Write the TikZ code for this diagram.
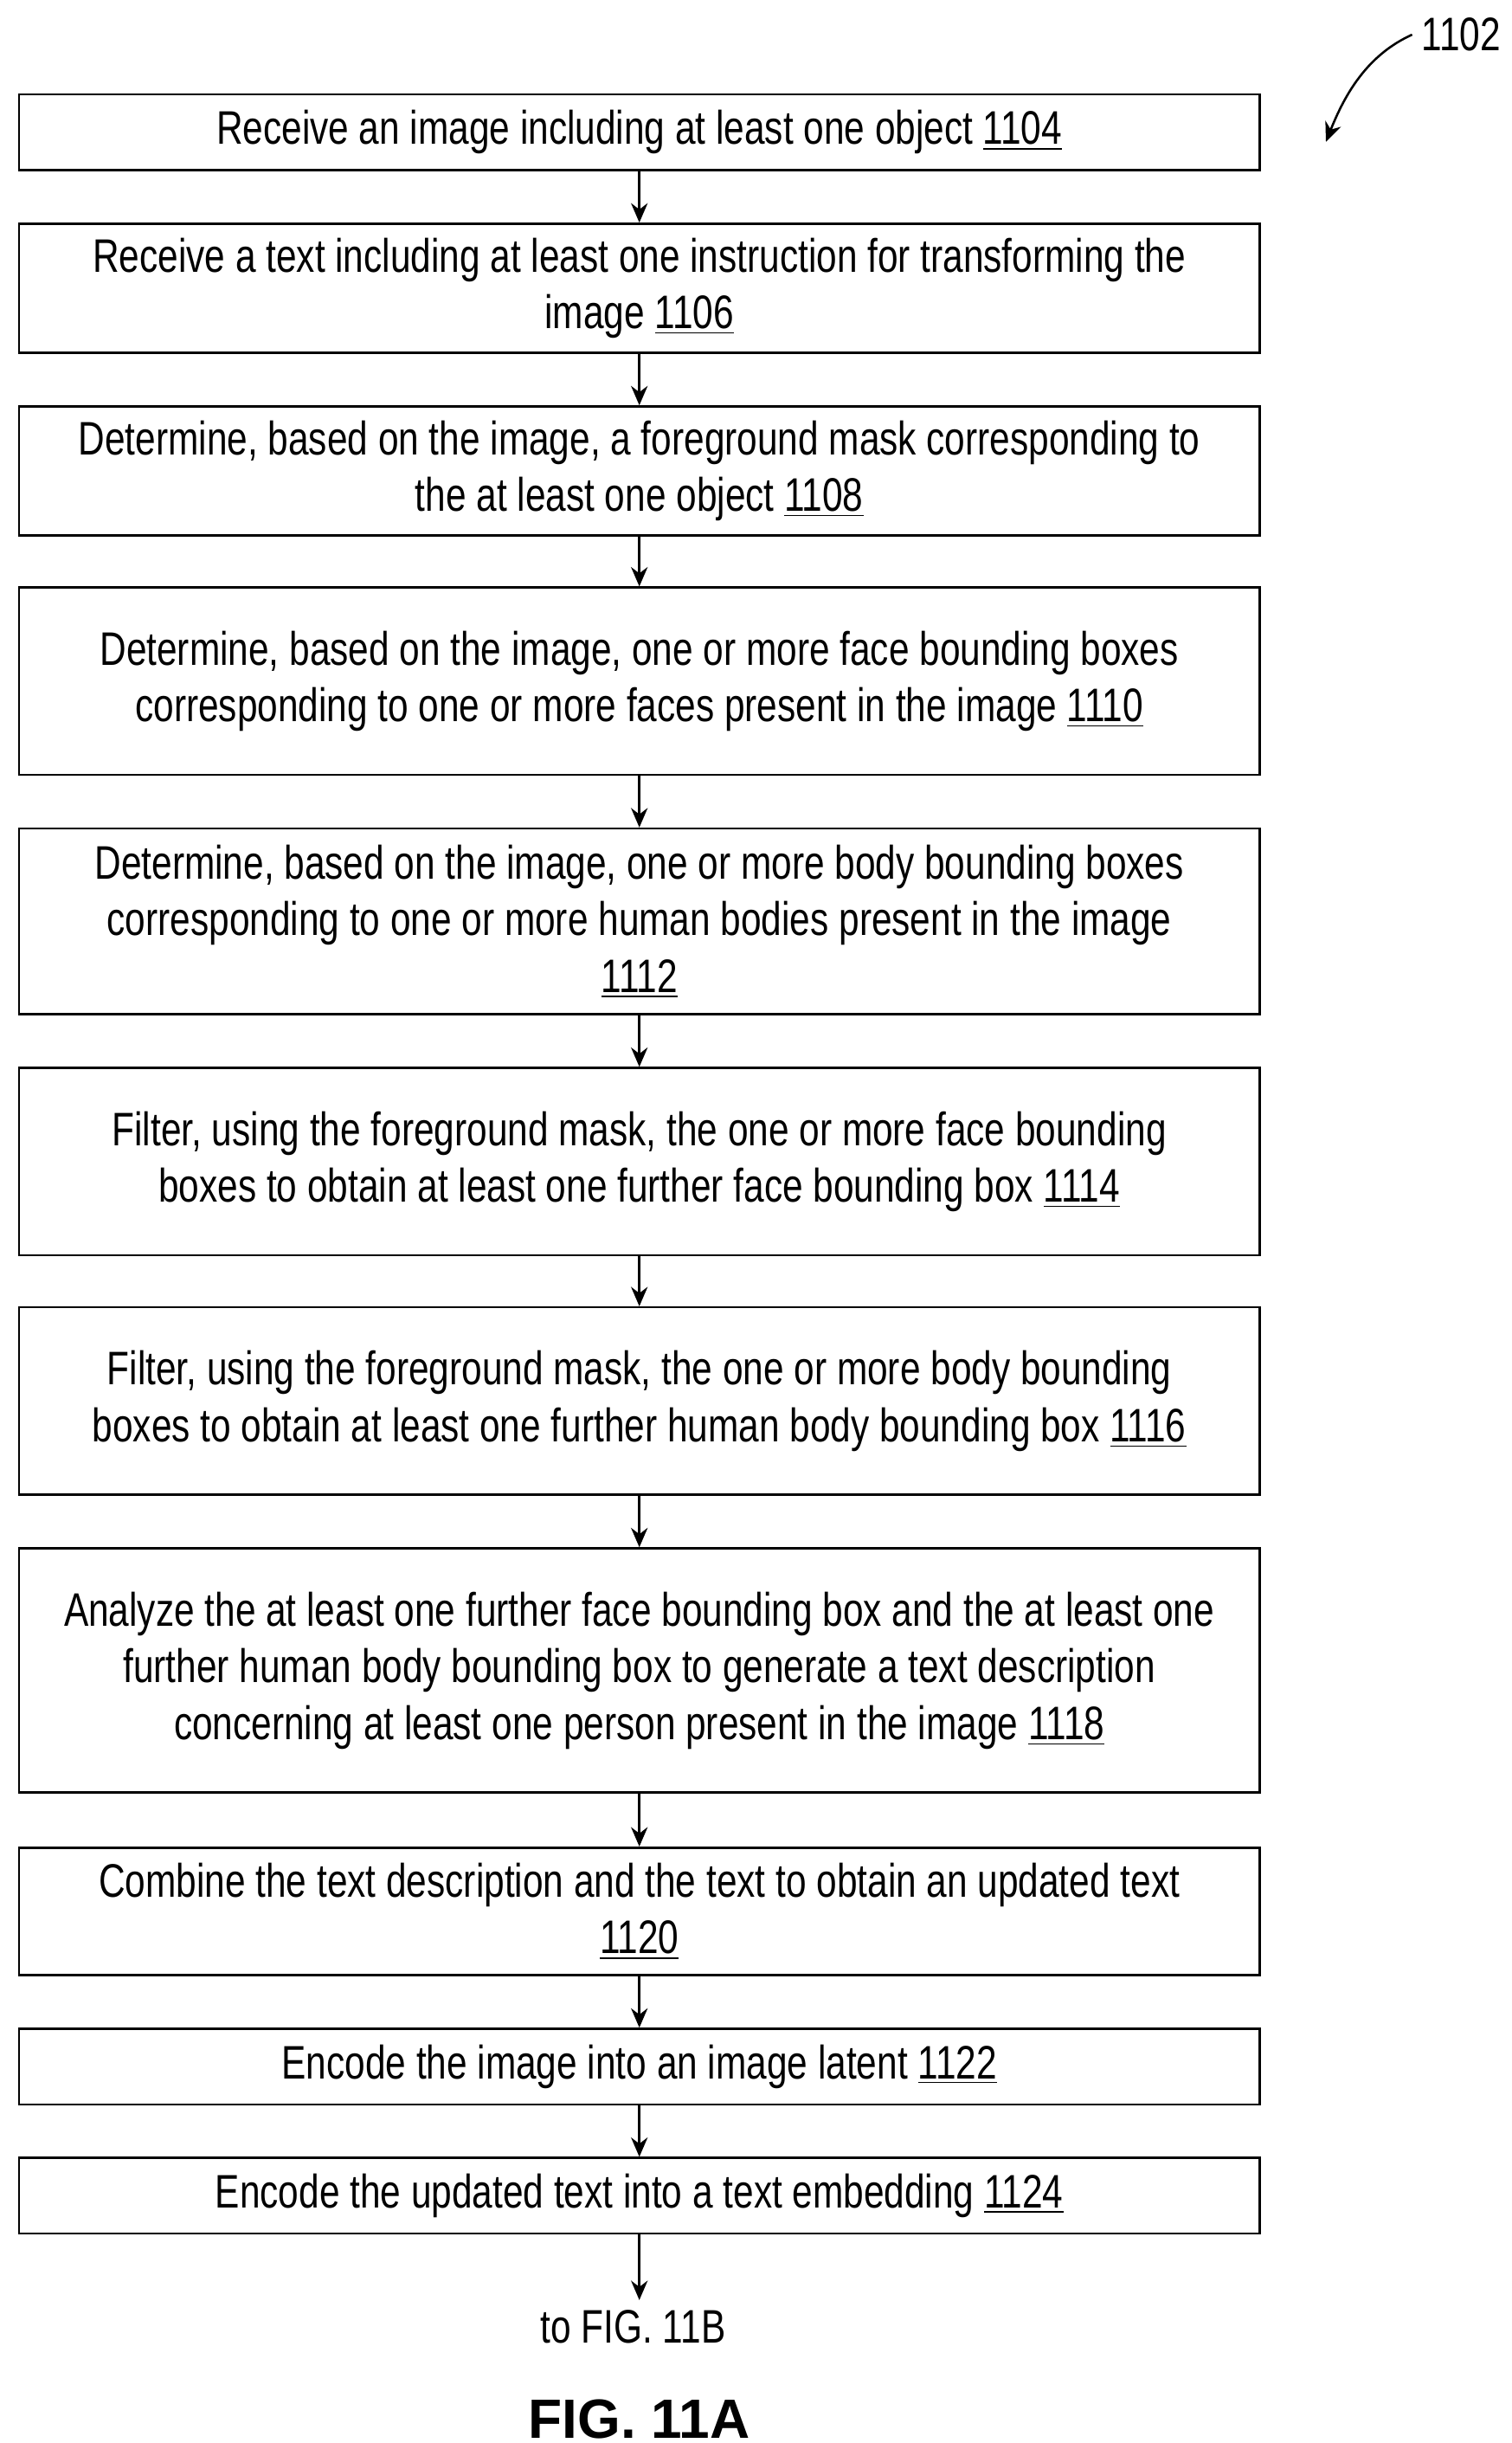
\documentclass[tikz,border=0pt]{standalone}
\usepackage{fontspec}
\setmainfont[FakeStretch=0.78]{Liberation Sans}
\newfontfamily\figfont{Liberation Sans}
\usetikzlibrary{arrows.meta}
\begin{document}
\begin{tikzpicture}[x=0.02cm,y=-0.02cm,
    font=\fontsize{17}{20.5}\selectfont,
    stepbox/.style={draw,thick,minimum width=15.76cm,align=center,inner sep=0pt},
    flow/.style={-{Stealth[length=7pt,width=6pt]},thick}]
    \useasboundingbox (0,0) rectangle (960,1551);

    % boxes, centred at x=406
    \node[stepbox,minimum height=0.96cm] (s1104) at (406,84) {Receive an image including at least one object \underline{1104}};
    \node[stepbox,minimum height=1.64cm] (s1106) at (406,183) {Receive a text including at least one instruction for transforming the\\image \underline{1106}};
    \node[stepbox,minimum height=1.64cm] (s1108) at (406,299) {Determine, based on the image, a foreground mask corresponding to\\the at least one object \underline{1108}};
    \node[stepbox,minimum height=2.38cm] (s1110) at (406,432.5) {Determine, based on the image, one or more face bounding boxes\\corresponding to one or more faces present in the image \underline{1110}};
    \node[stepbox,minimum height=2.36cm] (s1112) at (406,585) {Determine, based on the image, one or more body bounding boxes\\corresponding to one or more human bodies present in the image\\\underline{1112}};
    \node[stepbox,minimum height=2.38cm] (s1114) at (406,737.5) {Filter, using the foreground mask, the one or more face bounding\\boxes to obtain at least one further face bounding box \underline{1114}};
    \node[stepbox,minimum height=2.38cm] (s1116) at (406,889.5) {Filter, using the foreground mask, the one or more body bounding\\boxes to obtain at least one further human body bounding box \underline{1116}};
    \node[stepbox,minimum height=3.1cm] (s1118) at (406,1060.5) {Analyze the at least one further face bounding box and the at least one\\further human body bounding box to generate a text description\\concerning at least one person present in the image \underline{1118}};
    \node[stepbox,minimum height=1.62cm] (s1120) at (406,1213.5) {Combine the text description and the text to obtain an updated text\\\underline{1120}};
    \node[stepbox,minimum height=0.96cm] (s1124x) at (406,1312) {Encode the image into an image latent \underline{1122}};
    \node[stepbox,minimum height=0.96cm] (s1124) at (406,1394) {Encode the updated text into a text embedding \underline{1124}};

    \node (next) at (402,1477) {to FIG. 11B};
    \node[font=\figfont\bfseries\fontsize{20}{24}\selectfont] (fig) at (406,1536) {FIG. 11A};
    \node (ref) at (928,22) {1102};

    \foreach \a/\b in {s1104/s1106, s1106/s1108, s1108/s1110, s1110/s1112, s1112/s1114,
                       s1114/s1116, s1116/s1118, s1118/s1120, s1120/s1124x, s1124x/s1124}
        \draw[flow] (\a.south) -- (\b.north);
    \draw[flow] (s1124.south) -- (next.north -| s1124.south);
    \draw[flow] (ref.west) .. controls (868,35) and (854,60) .. (842,90);
\end{tikzpicture}
\end{document}
